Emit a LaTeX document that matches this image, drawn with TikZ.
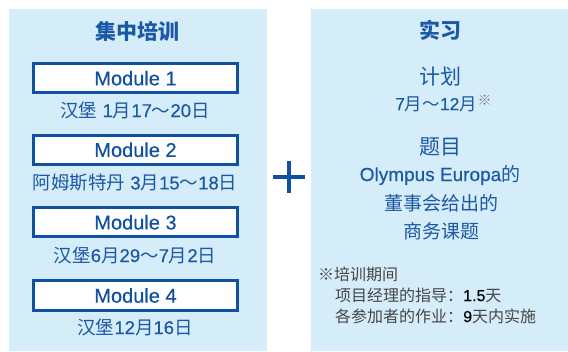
\documentclass[tikz,border=0pt]{standalone}
\usepackage{fontspec}
\setmainfont{Liberation Sans}
\newfontfamily\medfont{Liberation Sans}[FakeBold=0.35]
\newfontfamily\cjk{Noto Sans CJK SC}
\newcommand\hz[1]{{\cjk #1}}
\definecolor{panelbg}{RGB}{213,236,249}
\definecolor{boxblue}{RGB}{16,80,160}
\definecolor{textblue}{RGB}{27,88,165}
\definecolor{notegray}{RGB}{70,70,70}
\tikzset{
  panel/.style={fill=panelbg, draw=none, inner sep=0pt, anchor=north west},
  modbox/.style={draw=boxblue, line width=3pt, fill=white, minimum width=204pt, minimum height=29.3pt, inner sep=0pt, text=boxblue, font=\fontsize{20}{22}\selectfont\medfont},
  ttl/.style={text=textblue, inner sep=0pt, font=\fontsize{21}{23}\selectfont\cjk\bfseries},
  dateline/.style={text=textblue, inner sep=0pt, font=\fontsize{18.5}{20}\selectfont\medfont},
  bigcjk/.style={text=textblue, inner sep=0pt, font=\fontsize{21}{23}\selectfont\cjk},
  midtxt/.style={text=textblue, inner sep=0pt, font=\fontsize{19}{21}\selectfont\medfont},
  note/.style={text=notegray, inner sep=0pt, anchor=west, font=\fontsize{16}{18}\selectfont},
  plusbar/.style={draw=boxblue, line width=4pt}
}
\begin{document}
\begin{tikzpicture}[x=1pt,y=-1pt]
\useasboundingbox (0,0) rectangle (568,351);
% panels
\node[panel, minimum width=258pt, minimum height=342pt] (lp) at (9,9) {};
\node[panel, minimum width=257pt, minimum height=342pt] (rp) at (311,9) {};
% left panel
\node[ttl] (t1) at (137,31) {集中培训};
\node[modbox] (m1) at (135.5,78.2) {Module 1};
\node[dateline] (d1) at (135,110) {\hz{汉堡} 1\hz{月}17\hz{～}20\hz{日}};
\node[modbox] (m2) at (135.5,149.8) {Module 2};
\node[dateline] (d2) at (135,182.5) {\hz{阿姆斯特丹} 3\hz{月}15\hz{～}18\hz{日}};
\node[modbox] (m3) at (135.5,222.3) {Module 3};
\node[dateline] (d3) at (135,255) {\hz{汉堡}6\hz{月}29\hz{～}7\hz{月}2\hz{日}};
\node[modbox] (m4) at (135.5,295.5) {Module 4};
\node[dateline] (d4) at (135,327) {\hz{汉堡}12\hz{月}16\hz{日}};
% plus
\coordinate (pl) at (273,177);
\coordinate (pr) at (305,177);
\coordinate (pt) at (289,161);
\coordinate (pb) at (289,193);
\draw[plusbar] (pl) -- (pr);
\draw[plusbar] (pt) -- (pb);
% right panel
\node[ttl] (t2) at (440,30) {实习};
\node[bigcjk] (plan) at (440,77) {计划};
\node[text=textblue, inner sep=0pt, font=\fontsize{17.5}{19}\selectfont\medfont] (per) at (436,104) {7\hz{月～}12\hz{月}};
\node[inner sep=0pt, text=gray, font=\fontsize{14}{14}\selectfont\cjk] (star) at (484.5,100) {※};
\node[bigcjk] (topic) at (440,147) {题目};
\node[midtxt] (o1) at (440,175) {Olympus Europa\hz{的}};
\node[midtxt, font=\fontsize{19}{21}\selectfont\cjk] (o2) at (441,203) {董事会给出的};
\node[midtxt, font=\fontsize{19}{21}\selectfont\cjk] (o3) at (441,231) {商务课题};
\node[note] (n1) at (318,274) {\hz{※培训期间}};
\node[note] (n2) at (335,295) {\hz{项目经理的指导：}{\color{black}\medfont 1.5}\hz{天}};
\node[note] (n3) at (335,316) {\hz{各参加者的作业：}{\color{black}\medfont 9}\hz{天内实施}};
\end{tikzpicture}
\end{document}
